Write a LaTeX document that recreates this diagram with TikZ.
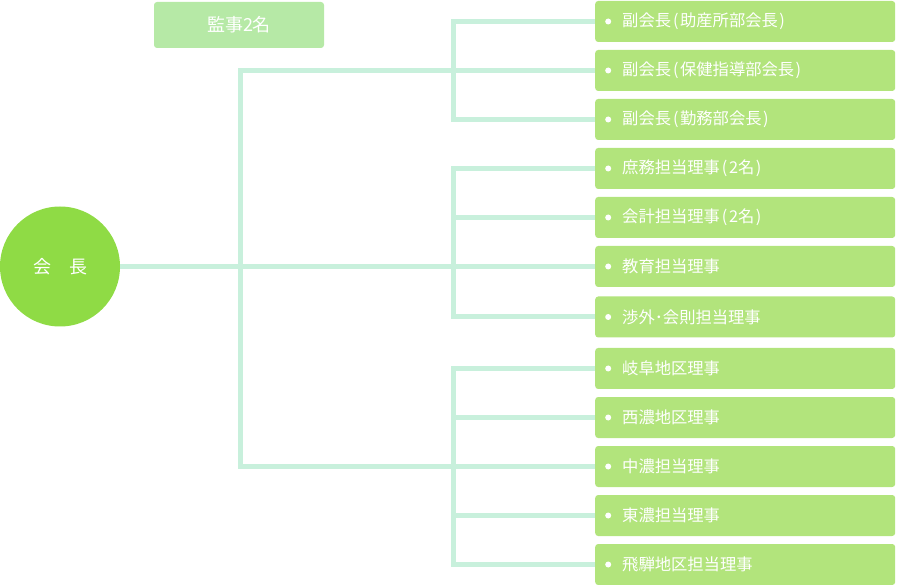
\documentclass[tikz,border=0pt]{standalone}
\usepackage{fontspec}
\setmainfont{Noto Sans CJK JP}
\usepackage{xcolor}
\usepackage{tikz}
\usetikzlibrary{positioning,calc}
\definecolor{chairgreen}{HTML}{8FDB45}
\definecolor{postgreen}{HTML}{B2E47C}
\definecolor{auditgreen}{HTML}{B6E9A6}
\definecolor{linkmint}{HTML}{C8F0DC}
\newcommand{\inparen}[1]{\kern2pt(\kern1.5pt#1\kern1.5pt)}

\begin{document}
\begin{tikzpicture}[
  x=1pt, y=-1pt,
  link/.style={draw=linkmint, line width=5pt},
  post/.style={fill=postgreen, rounded corners=3pt, anchor=west, text=white,
    minimum height=41pt, text width=246pt, inner xsep=27pt, align=left,
    font=\fontsize{16.3}{18}\selectfont,
    path picture={\fill[white] ([xshift=13pt]path picture bounding box.west) circle (3pt);}},
  chair/.style={circle, fill=chairgreen, minimum size=120pt, inner sep=0pt, text=white,
    font=\fontsize{18}{20}\selectfont},
  audit/.style={fill=auditgreen, rounded corners=3pt, text=white, minimum width=170pt,
    minimum height=46pt, font=\fontsize{18}{20}\selectfont}
]
\useasboundingbox (0,0) rectangle (900,585);

% posts
\node[post] (fk1) at (595,21.5) {副会長\inparen{助産所部会長}};
\node[post] (fk2) at (595,70.5) {副会長\inparen{保健指導部会長}};
\node[post] (fk3) at (595,119.5) {副会長\inparen{勤務部会長}};
\node[post] (tanto1) at (595,168.5) {庶務担当理事\inparen{2名}};
\node[post] (tanto2) at (595,217.5) {会計担当理事\inparen{2名}};
\node[post] (tanto3) at (595,266.5) {教育担当理事};
\node[post] (tanto4) at (595,317) {渉外･会則担当理事};
\node[post] (chiku1) at (595,368.5) {岐阜地区理事};
\node[post] (chiku2) at (595,417.5) {西濃地区理事};
\node[post] (chiku3) at (595,466.5) {中濃担当理事};
\node[post] (chiku4) at (595,515.5) {東濃担当理事};
\node[post] (chiku5) at (595,564.5) {飛騨地区担当理事};

\node[chair] (kaicho) at (60,266.5) {会　長};
\node[audit] (kanji) at (239,25) {監事2名};

\coordinate (trunk) at (240,266.5);
\coordinate (br1) at (453,70.5);
\coordinate (br2) at (453,266.5);
\coordinate (br3) at (453,466.5);

% connectors
\draw[link] (kaicho.east) -- (tanto3.west);
\draw[link] (fk2.west) -| (trunk) |- (chiku3.west);
\draw[link] (fk1.west) -| (br1) |- (fk3.west);
\draw[link] (tanto1.west) -| (br2) |- (tanto4.west);
\draw[link] (tanto2.west) -- (tanto2.west -| br2);
\draw[link] (chiku1.west) -| (br3) |- (chiku5.west);
\draw[link] (chiku2.west) -- (chiku2.west -| br3);
\draw[link] (chiku4.west) -- (chiku4.west -| br3);
\end{tikzpicture}
\end{document}
